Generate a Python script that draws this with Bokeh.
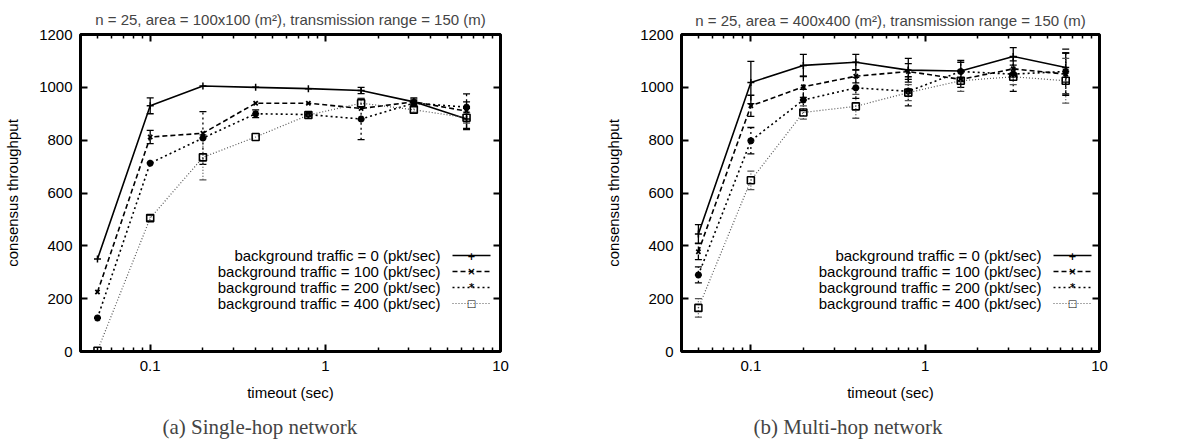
from bokeh.plotting import figure
from bokeh.models import (ColumnDataSource, Whisker, TeeHead, LogAxis, LinearAxis, FixedTicker,
                          CustomJSTickFormatter, Label, Arrow, Title, Range1d)
from bokeh.layouts import row
from bokeh.embed import file_html
from bokeh.resources import INLINE

# ---------------- data ----------------
timeout = [0.05, 0.1, 0.2, 0.4, 0.8, 1.6, 3.2, 6.4]
bg_labels = ["background traffic = 0 (pkt/sec)", "background traffic = 100 (pkt/sec)",
             "background traffic = 200 (pkt/sec)", "background traffic = 400 (pkt/sec)"]

# (a) single-hop
sh_bg0 = [350, 930, 1005, 1000, 995, 988, 945, 880]
sh_bg100 = [225, 812, 826, 940, 940, 920, 945, 910]
sh_bg200 = [127, 713, 808, 900, 897, 880, 940, 925]
sh_bg400 = [3, 505, 735, 812, 895, 940, 915, 885]
sh_err0 = [0, 30, 0, 0, 0, 12, 15, 40]
sh_err100 = [0, 25, 0, 0, 0, 0, 10, 65]
sh_err200 = [0, 0, 100, 15, 0, 78, 10, 20]
sh_err400 = [0, 10, 85, 0, 0, 15, 10, 20]

# (b) multi-hop
mh_bg0 = [445, 1018, 1083, 1095, 1065, 1062, 1117, 1075]
mh_bg100 = [378, 930, 1002, 1042, 1060, 1030, 1070, 1050]
mh_bg200 = [290, 798, 952, 998, 985, 1060, 1050, 1060]
mh_bg400 = [165, 648, 905, 928, 980, 1025, 1040, 1025]
mh_err0 = [35, 80, 42, 30, 45, 40, 33, 55]
mh_err100 = [30, 40, 40, 25, 30, 30, 30, 80]
mh_err200 = [30, 50, 40, 40, 55, 35, 65, 85]
mh_err400 = [35, 35, 25, 45, 30, 40, 30, 85]

x_major = [0.1, 1, 10]
x_minor = [0.05, 0.06, 0.07, 0.08, 0.09, 0.2, 0.3, 0.4, 0.5, 0.6, 0.7, 0.8, 0.9,
           2, 3, 4, 5, 6, 7, 8, 9]
y_ticks = [0, 200, 400, 600, 800, 1000, 1200]

FONT = "Liberation Sans"
FS = "15px"

styles = [
    dict(dash="solid", color="black", width=1.6, marker="cross", size=7, mw=1.5, fill=None, text="+"),
    dict(dash="5 3", color="black", width=1.6, marker="x", size=6, mw=1.8, fill=None, text="\u00d7"),
    dict(dash="2 3", color="black", width=1.6, marker="asterisk", size=7, mw=2.2, fill=None, text="*"),
    dict(dash="1 2", color="#555555", width=1.2, marker="square", size=7, mw=1.6, fill=None, text="\u25a1"),
]


def panel(title, caption, series, errs, bl, br, cap_off, valign):
    p = figure(width=591, height=448, x_axis_type="log",
               x_range=Range1d(0.04, 10), y_range=Range1d(0, 1200),
               output_backend="svg", toolbar_location=None,
               min_border_left=bl, min_border_right=br, min_border_top=34, min_border_bottom=95,
               title=title)
    p.title.align = "center"
    p.title.vertical_align = valign
    p.title.text_font = FONT
    p.title.text_font_size = FS
    p.title.text_font_style = "normal"
    p.title.standoff = 10
    p.grid.visible = False
    p.outline_line_color = "black"
    p.outline_line_width = 3
    p.outline_line_alpha = 1

    xt = FixedTicker(ticks=x_major, minor_ticks=x_minor)
    yt = FixedTicker(ticks=y_ticks)
    fmt = CustomJSTickFormatter(code="return tick < 1 ? tick.toFixed(1) : tick.toFixed(0);")

    ax = p.xaxis[0]
    ax.ticker = xt
    ax.formatter = fmt
    ay = p.yaxis[0]
    ay.ticker = yt
    ax.axis_label = "timeout (sec)"
    ay.axis_label = "consensus throughput"
    for a in (ax, ay):
        a.axis_line_color = None
        a.major_tick_in = 7
        a.major_tick_out = 0
        a.minor_tick_in = 4
        a.minor_tick_out = 0
        a.major_tick_line_width = 2
        a.minor_tick_line_width = 1.5
        a.major_label_text_font = FONT
        a.major_label_text_font_size = FS
        a.axis_label_text_font = FONT
        a.axis_label_text_font_size = FS
        a.axis_label_text_font_style = "normal"
        a.major_label_text_color = "black"
        a.axis_label_text_color = "black"
    ay.minor_tick_line_color = None
    ax.major_label_standoff = 9
    ax.axis_label_standoff = 10
    ay.major_label_standoff = 8
    ay.axis_label_standoff = 15

    top = LogAxis(ticker=FixedTicker(ticks=x_major, minor_ticks=x_minor),
                  major_label_text_color=None, major_label_text_font_size="2px",
                  major_label_standoff=0, axis_line_color=None,
                  major_tick_in=7, major_tick_out=0, minor_tick_in=4, minor_tick_out=0,
                  major_tick_line_width=2, minor_tick_line_width=1.5)
    right = LinearAxis(ticker=FixedTicker(ticks=y_ticks),
                       major_label_text_color=None, major_label_text_font_size="2px",
                       axis_line_color=None, major_tick_in=7, major_tick_out=0,
                       minor_tick_line_color=None, major_tick_line_width=2)
    p.add_layout(top, "above")
    p.add_layout(right, "right")

    for ys, es, st in zip(series, errs, styles):
        src = ColumnDataSource(dict(x=timeout, y=ys))
        p.line("x", "y", source=src, line_color=st["color"], line_width=st["width"],
               line_dash=st["dash"])
        ex = [x for x, e in zip(timeout, es) if e > 0]
        lo = [y - e for y, e in zip(ys, es) if e > 0]
        hi = [y + e for y, e in zip(ys, es) if e > 0]
        wsrc = ColumnDataSource(dict(x=ex, lo=lo, hi=hi))
        w = Whisker(source=wsrc, base="x", upper="hi", lower="lo", dimension="height",
                    line_color=st["color"], line_width=1.3, line_dash=st["dash"],
                    upper_head=TeeHead(size=7, line_width=1.3, line_color=st["color"]),
                    lower_head=TeeHead(size=7, line_width=1.3, line_color=st["color"]))
        p.add_layout(w)
        p.scatter("x", "y", source=src, marker=st["marker"], size=st["size"],
                  line_color="black", fill_color=st["fill"], line_width=st["mw"])

    # gnuplot-style key: text right-aligned, sample to the right
    for i, (lab, st) in enumerate(zip(bg_labels, styles)):
        yy = 96 - 16 * i
        p.add_layout(Label(x=360, y=yy, x_units="screen", y_units="screen", text=lab,
                           text_align="right", text_baseline="middle",
                           text_font=FONT, text_font_size=FS, text_color="black"))
        p.add_layout(Arrow(x_start=372, y_start=yy, x_end=410, y_end=yy,
                           start_units="screen", end_units="screen", end=None,
                           line_color=st["color"], line_width=st["width"], line_dash=st["dash"]))
        p.add_layout(Label(x=391, y=yy, x_units="screen", y_units="screen", text=st["text"],
                           text_align="center", text_baseline="middle",
                           text_font="DejaVu Sans", text_font_size="10px",
                           text_font_style="bold", text_color="black"))

    cap = Title(text=caption, align="left", offset=cap_off, text_font="Liberation Serif",
                text_font_size="21px", text_font_style="normal", standoff=19)
    p.add_layout(cap, "below")
    return p


pa = panel("n = 25, area = 100x100 (m\u00b2), transmission range = 150 (m)",
           "(a)  Single-hop network",
           [sh_bg0, sh_bg100, sh_bg200, sh_bg400],
           [sh_err0, sh_err100, sh_err200, sh_err400], 80, 91, 82, "top")
pb = panel("n = 25, area = 400x400 (m\u00b2), transmission range = 150 (m)",
           "(b)  Multi-hop network",
           [mh_bg0, mh_bg100, mh_bg200, mh_bg400],
           [mh_err0, mh_err100, mh_err200, mh_err400], 90, 83, 72, "middle")

layout = row(pa, pb)
open("out.html", "w").write(file_html(layout, INLINE))
